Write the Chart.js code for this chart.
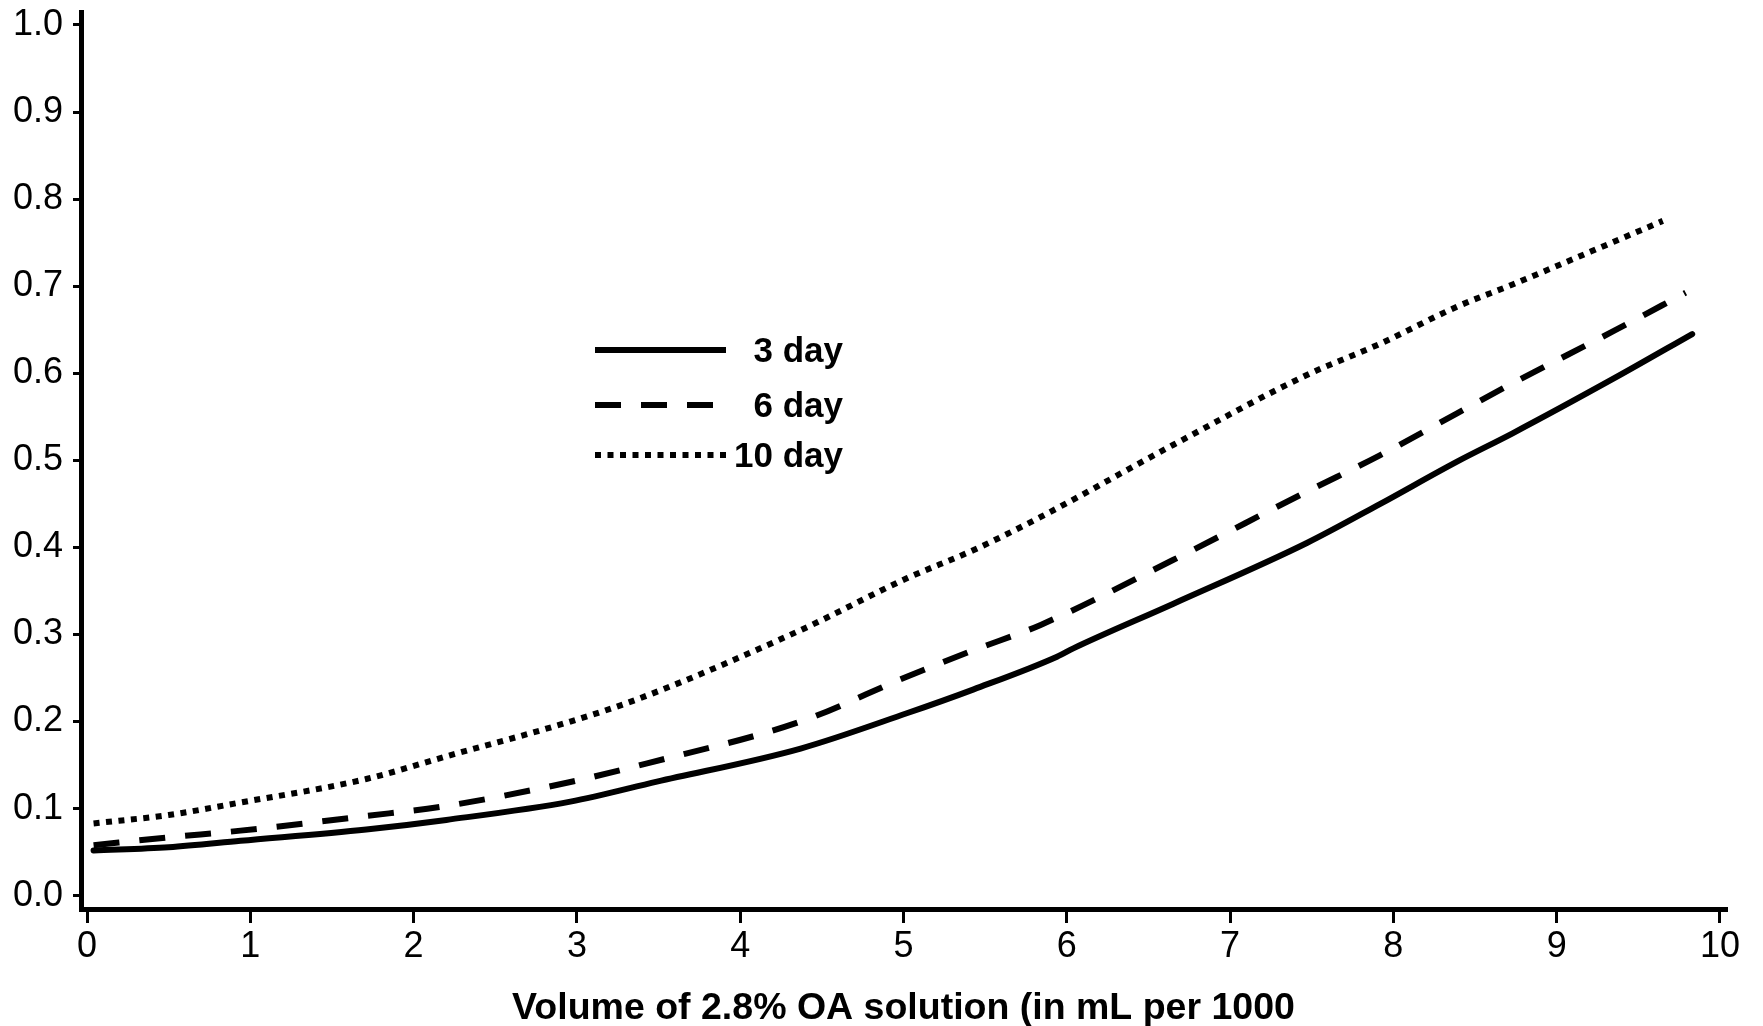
<!DOCTYPE html>
<html>
<head>
<meta charset="utf-8">
<script src="https://cdn.jsdelivr.net/npm/chart.js@4.4.1/dist/chart.umd.min.js"></script>
<style>
html,body{margin:0;padding:0;background:#fff;}
</style>
</head>
<body>
<canvas id="oaChart" width="1763" height="1026"></canvas>
<script>
// tick labels
const xTicks = [0, 1, 2, 3, 4, 5, 6, 7, 8, 9, 10];
const yTicks = [0, 0.1, 0.2, 0.3, 0.4, 0.5, 0.6, 0.7, 0.8, 0.9, 1.0];
const xTitle = "Volume of 2.8% OA solution (in mL per 1000";

// 3 day curve
const vol3 = [0.04, 0.5, 0.94, 1.71, 2.20, 2.96, 3.49, 4.37, 5.02, 5.43, 5.94, 6.04, 6.65, 7.47, 7.92, 8.39, 8.73, 9.35, 9.83];
const val3 = [0.052, 0.0556, 0.063, 0.076, 0.087, 0.108, 0.131, 0.169, 0.2095, 0.237, 0.2745, 0.284, 0.335, 0.405, 0.450, 0.4985, 0.531, 0.594, 0.645];

// 6 day curve
const vol6 = [0.04, 0.5, 0.94, 1.71, 2.20, 2.96, 3.43, 4.37, 5.02, 5.43, 5.84, 6.65, 7.47, 7.92, 8.39, 8.73, 9.35, 9.79];
const val6 = [0.058, 0.067, 0.0747, 0.0915, 0.103, 0.1306, 0.152, 0.200, 0.2515, 0.282, 0.311, 0.3855, 0.464, 0.506, 0.554, 0.5885, 0.6486, 0.6925];

// 10 day curve
const vol10 = [0.04, 0.5, 0.94, 1.71, 2.20, 2.96, 3.39, 4.37, 5.02, 5.43, 5.84, 6.65, 7.47, 7.92, 8.39, 8.73, 9.35, 9.65];
const val10 = [0.083, 0.0927, 0.107, 0.134, 0.160, 0.200, 0.227, 0.305, 0.3645, 0.397, 0.435, 0.5176, 0.598, 0.634, 0.6765, 0.702, 0.751, 0.775];

const seriesLabels = ["3 day", "6 day", "10 day"];

function toPoints(xs, ys){
    return xs.map((x, i) => ({x: x, y: ys[i]}));
}

/* ===== legend drawn as plain lines + right aligned text ===== */
const lineLegend = {
    id: "lineLegend",
    afterDraw(chart){
        const ctx = chart.ctx;
        const rows = [350, 405, 455];
        chart.data.datasets.forEach((ds, i) => {
            const y = rows[i];
            ctx.save();
            ctx.strokeStyle = ds.borderColor;
            ctx.lineWidth = ds.borderWidth;
            ctx.lineCap = "butt";
            ctx.setLineDash(ds.borderDash || []);
            ctx.beginPath();
            ctx.moveTo(595, y);
            ctx.lineTo(726, y);
            ctx.stroke();
            ctx.setLineDash([]);
            ctx.fillStyle = "#000";
            ctx.font = 'bold 35px "Liberation Sans", Arial, sans-serif';
            ctx.textAlign = "right";
            ctx.textBaseline = "alphabetic";
            ctx.fillText(ds.label, 843, y + 12);
            ctx.restore();
        });
    }
};

const tickFont = {family: '"Liberation Sans", Arial, sans-serif', size: 36};

new Chart(document.getElementById("oaChart"), {
    type: "line",
    data: {
        datasets: [
            {
                label: seriesLabels[0],
                data: toPoints(vol3, val3),
                borderColor: "#000",
                borderWidth: 6,
                borderDash: [],
                borderCapStyle: "round"
            },
            {
                label: seriesLabels[1],
                data: toPoints(vol6, val6),
                borderColor: "#000",
                borderWidth: 6,
                borderDash: [26, 20]
            },
            {
                label: seriesLabels[2],
                data: toPoints(vol10, val10),
                borderColor: "#000",
                borderWidth: 6,
                borderDash: [6, 6.5]
            }
        ]
    },
    options: {
        responsive: false,
        animation: false,
        devicePixelRatio: 1,
        elements: {
            point: {radius: 0},
            line: {fill: false, cubicInterpolationMode: "monotone"}
        },
        layout: {padding: {top: 12, right: 37, left: 0, bottom: 0}},
        plugins: {
            legend: {display: false},
            tooltip: {enabled: false}
        },
        scales: {
            x: {
                type: "linear",
                min: -0.037,
                max: 10.037,
                afterBuildTicks: s => { s.ticks = xTicks.map(v => ({value: v})); },
                afterFit: s => { s.height = 117; s.paddingLeft = 0; s.paddingRight = 0; },
                ticks: {color: "#000", font: tickFont, padding: 2, maxRotation: 0, autoSkip: false},
                grid: {drawOnChartArea: false, drawTicks: true, tickLength: 14, tickWidth: 3, tickColor: "#000", lineWidth: 3},
                border: {display: true, width: 5, color: "#000"},
                title: {
                    display: true,
                    text: xTitle,
                    color: "#000",
                    font: {family: '"Liberation Sans", Arial, sans-serif', size: 37.5, weight: "bold", lineHeight: 1.0},
                    padding: {top: 0, bottom: -1}
                }
            },
            y: {
                type: "linear",
                min: -0.0153,
                max: 1.0149,
                afterBuildTicks: s => { s.ticks = yTicks.map(v => ({value: v})); },
                afterFit: s => { s.width = 81; s.paddingTop = 0; s.paddingBottom = 0; },
                ticks: {color: "#000", font: tickFont, padding: 10, callback: v => Number(v).toFixed(1)},
                grid: {drawOnChartArea: false, drawTicks: true, tickLength: 8, tickWidth: 3, tickColor: "#000", lineWidth: 3},
                border: {display: true, width: 5, color: "#000"}
            }
        }
    },
    plugins: [lineLegend]
});
</script>
</body>
</html>
